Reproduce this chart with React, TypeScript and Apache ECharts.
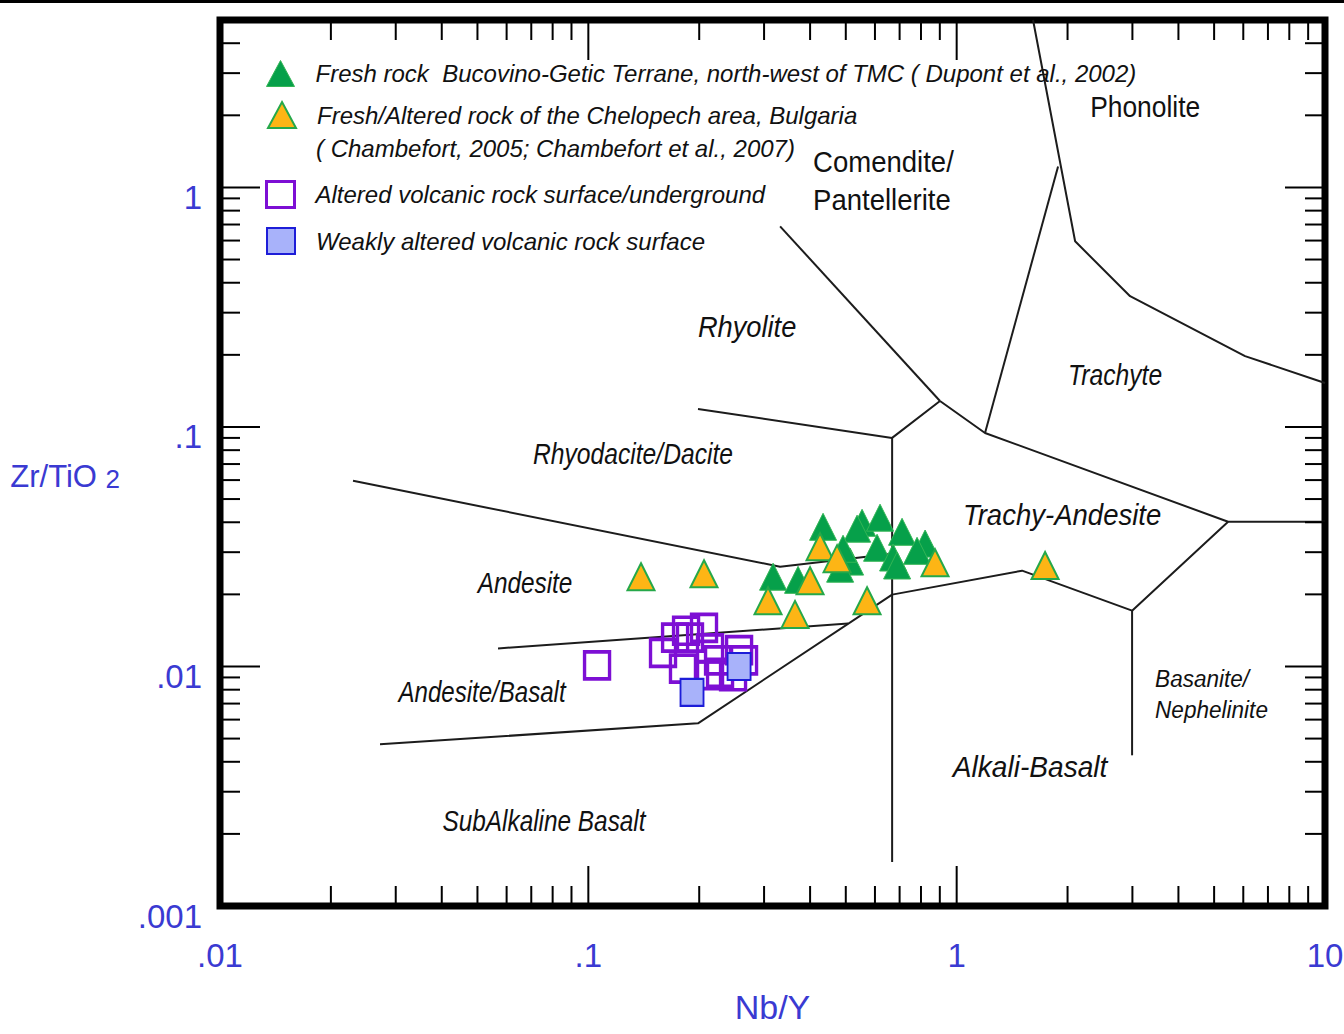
import React, { useEffect, useRef } from 'react';
import * as echarts from 'echarts';

// ---------- axes ----------
const X_MIN = 0.01, X_MAX = 10, Y_MIN = 0.001, Y_MAX = 5;
const xTickLabels = ['.01', '.1', '1', '10']; // 10^-2 .. 10^1
const yTickLabels = ['.001', '.01', '.1', '1']; // 10^-3 .. 10^0
const xMajorTicks = [0.1, 1];
const xMinorDecades = [0.01, 0.1, 1];
const yMajorTicks = [0.01, 0.1, 1];
const yMinorDecades = [0.001, 0.01, 0.1, 1];
const minorMultipliers = [2, 3, 4, 5, 6, 7, 8, 9];

// ---------- legend ----------
const legendNames = [
  'Fresh rock  Bucovino-Getic Terrane, north-west of TMC ( Dupont et al., 2002)',
  'Fresh/Altered rock of the Chelopech area, Bulgaria',
  'Altered volcanic rock surface/underground',
  'Weakly altered volcanic rock surface',
];
const legendSecondLine = '( Chambefort, 2005; Chambefort et al., 2007)';

// ---------- data (Nb/Y, Zr/TiO2) ----------
const freshBucovinoX = [0.4338, 0.5536, 0.5366, 0.6194, 0.7108, 0.8209, 0.7806, 0.6080, 0.6721, 0.6891, 0.5136, 0.4826, 0.4915, 0.3174, 0.3710];
const freshBucovinoY = [0.0383, 0.0398, 0.0376, 0.0418, 0.0365, 0.0326, 0.0304, 0.0313, 0.0285, 0.0264, 0.0274, 0.0256, 0.0310, 0.0237, 0.0230];

const chelopechX = [0.1390, 0.2061, 0.4257, 0.4735, 0.3999, 0.3075, 0.3640, 0.5711, 0.8735, 1.738];
const chelopechY = [0.0237, 0.0244, 0.0316, 0.0282, 0.0228, 0.0188, 0.0165, 0.0188, 0.0271, 0.0264];

const alteredX = [0.1056, 0.1842, 0.2061, 0.1720, 0.1595, 0.1888, 0.1807, 0.2140, 0.2250, 0.2140, 0.2566, 0.2471, 0.2278, 0.2647];
const alteredY = [0.0101, 0.0141, 0.0145, 0.0132, 0.0114, 0.0132, 0.0098, 0.0119, 0.0106, 0.0092, 0.0117, 0.0091, 0.0094, 0.0106];

const weaklyX = [0.1912, 0.2566];
const weaklyY = [0.0078, 0.0100];

// ---------- field boundaries ----------
const bRhyoliteComendite = [[0.3316, 0.688], [0.901, 0.1283]];
const bTrachyAndesiteTop = [[0.901, 0.1283], [1.194, 0.0944], [5.457, 0.0402], [10, 0.0402]];
const bRhyoliteBase = [[0.901, 0.1283], [0.668, 0.09], [0.668, 0.001526]];
const bRhyoliteRhyodacite = [[0.1985, 0.1189], [0.668, 0.09]];
const bTrachyteComendite = [[1.194, 0.0944], [1.885, 1.223]];
const bPhonolite = [[1.612, 5], [2.097, 0.5957], [2.957, 0.3514], [6.067, 0.1976], [10, 0.1526]];
const bTrachyAndesiteBase = [[0.668, 0.01995], [1.505, 0.02512], [2.994, 0.0171], [5.457, 0.0402]];
const bBasanite = [[2.994, 0.0171], [2.994, 0.004257]];
const bAndesiteRhyodacite = [[0.02297, 0.0596], [0.3316, 0.0261], [0.668, 0.02957]];
const bAndesiteBasalt = [[0.05686, 0.01189], [0.5072, 0.01511]];
const bSubAlkaline = [[0.02719, 0.004732], [0.1985, 0.005788], [0.668, 0.01995]];
const boundaries = [
  bRhyoliteComendite, bTrachyAndesiteTop, bRhyoliteBase, bRhyoliteRhyodacite, bTrachyteComendite,
  bPhonolite, bTrachyAndesiteBase, bBasanite, bAndesiteRhyodacite, bAndesiteBasalt, bSubAlkaline,
];

// ---------- field names ----------
const fieldNames = ['Phonolite', 'Comendite/\nPantellerite', 'Rhyolite', 'Trachyte', 'Rhyodacite/Dacite', 'Trachy-Andesite', 'Andesite', 'Andesite/Basalt', 'Basanite/\nNephelinite', 'Alkali-Basalt', 'SubAlkaline Basalt'];
const fieldX = [3.249, 0.4074, 0.2698, 2.692, 0.1322, 1.933, 0.06731, 0.05145, 3.457, 1.582, 0.0758];
const fieldY = [2.175, 1.069, 0.2610, 0.1647, 0.07718, 0.04299, 0.02217, 0.00779, 0.007681, 0.003795, 0.00226];
const fieldItalic = [false, false, true, true, true, true, true, true, true, true, true];
const fieldLeftAligned = [false, true, false, false, false, false, false, false, true, false, false];
const fieldFontSize = [29, 29, 29, 29, 29, 29, 29, 29, 24, 29, 29];
const fieldScaleX = [0.91, 0.95, 0.94, 0.85, 0.85, 0.95, 0.84, 0.83, 0.94, 0.97, 0.84];

const FONT = "'Liberation Sans', Arial, sans-serif";
const AXIS_BLUE = '#3a3ad2';
const TEXT = '#111111';
const PURPLE = '#7d0fd4';

function zip(xs: number[], ys: number[]) {
  return xs.map((x, i) => [x, ys[i]]);
}

function decadeLabel(v: number, labels: string[], minExp: number) {
  const l = Math.log10(v);
  const e = Math.round(l);
  if (Math.abs(l - e) > 1e-6) return '';
  return labels[e - minExp] ?? '';
}

export default function App() {
  const ref = useRef<HTMLDivElement>(null);

  useEffect(() => {
    if (!ref.current) return;
    const chart = echarts.init(ref.current, undefined, { renderer: 'svg' });

    const tickData: number[][] = [];
    xMajorTicks.forEach((v) => tickData.push([v, Y_MIN, 0, 40]));
    xMinorDecades.forEach((d) => minorMultipliers.forEach((m) => tickData.push([d * m, Y_MIN, 0, 20])));
    yMajorTicks.forEach((v) => tickData.push([X_MIN, v, 1, 40]));
    yMinorDecades.forEach((d) => minorMultipliers.forEach((m) => {
      if (d * m < Y_MAX - 1e-9) tickData.push([X_MIN, d * m, 1, 20]);
    }));

    const lineSeries = boundaries.map((b, i) => ({
      type: 'line',
      name: 'boundary' + i,
      data: b,
      symbol: 'none',
      showSymbol: false,
      silent: true,
      clip: false,
      z: 2,
      lineStyle: { color: '#1c1c1c', width: 2 },
      emphasis: { disabled: true },
    }));

    const legendPos = [[266, 60], [267, 101], [265, 180], [266, 227]];
    const legendBorder = [1, 2, 3, 2];
    const legends = legendNames.map((n, i) => ({
      data: [n],
      left: legendPos[i][0],
      top: legendPos[i][1],
      padding: 0,
      itemWidth: 28,
      itemHeight: 26,
      selectedMode: false,
      itemStyle: { borderWidth: legendBorder[i], opacity: 1 },
      textStyle: {
        fontFamily: FONT,
        fontStyle: 'italic',
        fontSize: 24,
        color: TEXT,
        padding: [4, 0, 0, 16],
      },
    }));

    const option: any = {
      animation: false,
      backgroundColor: '#ffffff',
      grid: {
        left: 220, right: 19, top: 20, bottom: 128,
        outerBoundsMode: 'none',
        containLabel: false,
        show: true, borderColor: '#000', borderWidth: 7, backgroundColor: 'transparent',
      },
      legend: legends,
      xAxis: {
        type: 'log', logBase: 10, min: X_MIN, max: X_MAX, splitNumber: 3,
        axisLine: { show: false }, axisTick: { show: false }, splitLine: { show: false },
        axisLabel: {
          color: AXIS_BLUE, fontFamily: FONT, fontSize: 33, margin: 33,
          formatter: (v: number) => decadeLabel(v, xTickLabels, -2),
        },
        name: 'Nb/Y', nameLocation: 'middle', nameGap: 84,
        nameTextStyle: { color: AXIS_BLUE, fontFamily: FONT, fontSize: 34 },
      },
      yAxis: {
        type: 'log', logBase: 10, min: Y_MIN, max: Y_MAX, splitNumber: 4,
        axisLine: { show: false }, axisTick: { show: false }, splitLine: { show: false },
        axisLabel: {
          color: AXIS_BLUE, fontFamily: FONT, fontSize: 33, margin: 18, showMaxLabel: false,
          formatter: (v: number) => {
            const s = decadeLabel(v, yTickLabels, -3);
            return s ? `{v|${s}}` : '';
          },
          rich: {
            v: { color: AXIS_BLUE, fontFamily: FONT, fontSize: 33, padding: [20, 0, 0, 0] },
          },
        },
        name: '{a|Zr/TiO }{b|2}', nameLocation: 'middle', nameGap: 100, nameRotate: 0,
        nameTextStyle: {
          padding: [18, 0, 0, 0],
          rich: {
            a: { color: AXIS_BLUE, fontFamily: FONT, fontSize: 31, verticalAlign: 'bottom', lineHeight: 40 },
            b: { color: AXIS_BLUE, fontFamily: FONT, fontSize: 26, verticalAlign: 'bottom', lineHeight: 33 },
          },
        },
      },
      graphic: [
        { type: 'rect', left: 0, top: 0, shape: { width: 1344, height: 3 }, style: { fill: '#000' } },
        {
          type: 'text', left: 316, top: 136,
          style: { text: legendSecondLine, font: `italic 24px ${FONT}`, fill: TEXT },
        },
      ],
      series: [
        ...lineSeries,
        {
          type: 'custom',
          name: 'ticks',
          silent: true,
          clip: false,
          z: 3,
          data: tickData,
          renderItem: (params: any, api: any) => {
            const v0 = api.value(0), v1 = api.value(1), t = api.value(2), len = api.value(3);
            if (t === 0) {
              const b = api.coord([v0, Y_MIN]);
              const tp = api.coord([v0, Y_MAX]);
              return {
                type: 'group', children: [
                  { type: 'line', shape: { x1: b[0], y1: b[1], x2: b[0], y2: b[1] - len }, style: { stroke: '#000', lineWidth: 2 } },
                  { type: 'line', shape: { x1: tp[0], y1: tp[1], x2: tp[0], y2: tp[1] + len }, style: { stroke: '#000', lineWidth: 2 } },
                ],
              };
            }
            const l = api.coord([X_MIN, v1]);
            const r = api.coord([X_MAX, v1]);
            return {
              type: 'group', children: [
                { type: 'line', shape: { x1: l[0], y1: l[1], x2: l[0] + len, y2: l[1] }, style: { stroke: '#000', lineWidth: 2 } },
                { type: 'line', shape: { x1: r[0], y1: r[1], x2: r[0] - len, y2: r[1] }, style: { stroke: '#000', lineWidth: 2 } },
              ],
            };
          },
        },
        {
          type: 'custom',
          name: 'fields',
          silent: true,
          clip: false,
          z: 4,
          data: fieldNames.map((_, i) => [fieldX[i], fieldY[i], i]),
          renderItem: (params: any, api: any) => {
            const i = api.value(2);
            const p = api.coord([api.value(0), api.value(1)]);
            const fs = fieldFontSize[i];
            return {
              type: 'text',
              x: p[0],
              y: p[1],
              scaleX: fieldScaleX[i],
              style: {
                text: fieldNames[i],
                font: `${fieldItalic[i] ? 'italic ' : ''}${fs}px ${FONT}`,
                fill: TEXT,
                align: fieldLeftAligned[i] ? 'left' : 'center',
                verticalAlign: 'middle',
                lineHeight: fieldLeftAligned[i] ? (fs > 25 ? 38 : 31) : fs + 4,
              },
            };
          },
        },
        {
          type: 'scatter',
          name: legendNames[0],
          z: 5,
          symbol: 'triangle',
          symbolSize: 27,
          itemStyle: { color: '#06a04a', borderColor: '#34b556', borderWidth: 1, opacity: 1 },
          data: zip(freshBucovinoX, freshBucovinoY),
          emphasis: { disabled: true },
        },
        {
          type: 'scatter',
          name: legendNames[1],
          z: 6,
          symbol: 'triangle',
          symbolSize: 27,
          itemStyle: { color: '#fdb515', borderColor: '#25a84a', borderWidth: 2, opacity: 1 },
          data: zip(chelopechX, chelopechY),
          emphasis: { disabled: true },
        },
        {
          type: 'scatter',
          name: legendNames[2],
          z: 7,
          symbol: 'rect',
          symbolSize: [25, 27],
          itemStyle: { color: 'rgba(255,255,255,0)', borderColor: PURPLE, borderWidth: 3.5, opacity: 1 },
          data: zip(alteredX, alteredY),
          emphasis: { disabled: true },
        },
        {
          type: 'scatter',
          name: legendNames[3],
          z: 8,
          symbol: 'rect',
          symbolSize: [23, 27],
          itemStyle: { color: '#a8b2fa', borderColor: '#1d1dd8', borderWidth: 2, opacity: 1 },
          data: zip(weaklyX, weaklyY),
          emphasis: { disabled: true },
        },
      ],
    };

    chart.setOption(option);
    return () => chart.dispose();
  }, []);

  return (
    <div
      ref={ref}
      style={{ position: 'fixed', left: 0, top: 0, width: 1344, height: 1034, background: '#fff' }}
    />
  );
}
